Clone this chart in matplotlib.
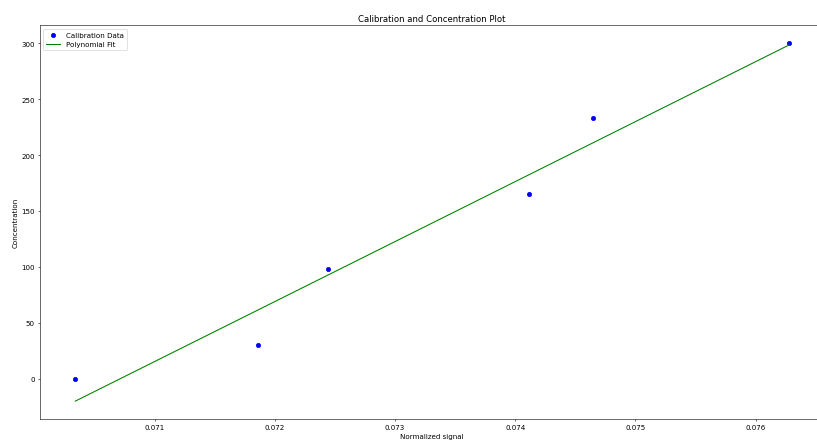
import numpy as np
import matplotlib
matplotlib.use("Agg")
import matplotlib.pyplot as plt

signal = [0.070341, 0.071861, 0.072443, 0.074116, 0.074645, 0.076278]
concentration = [0.0, 30.4, 97.6, 165.0, 232.8, 300.0]

x = np.array(signal)
y = np.array(concentration)
coef = np.polyfit(x, y, 1)
fit = np.polyval(coef, x)

fig = plt.figure(figsize=(16, 8.636), dpi=817 / 16)
ax = fig.add_axes([0.0485, 0.0476, 0.961, 0.8924])
ax.scatter(x, y, color='blue', label='Calibration Data')
ax.plot(x, fit, color='green', label='Polynomial Fit')
ax.set_title('Calibration and Concentration Plot')
ax.set_xlabel('Normalized signal')
ax.set_ylabel('Concentration')
ax.spines['right'].set_visible(False)
ax.legend(loc='upper left')
fig.savefig('out.png', dpi=817 / 16)
